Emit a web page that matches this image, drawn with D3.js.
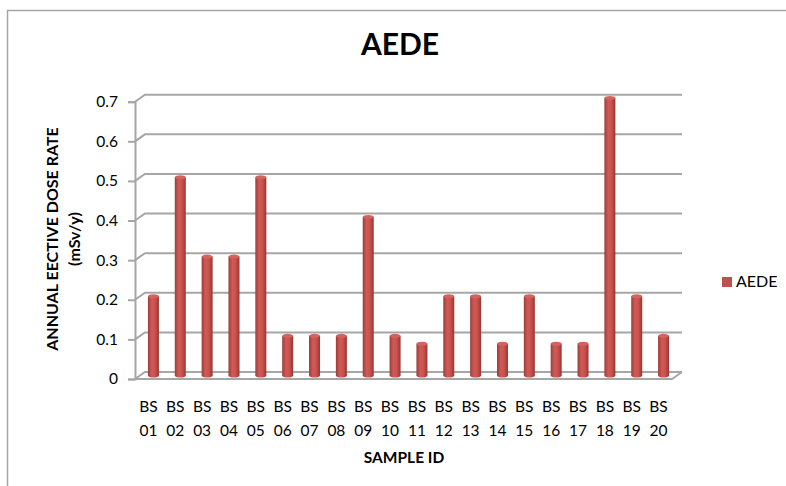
<!DOCTYPE html>
<html>
<head>
<meta charset="utf-8">
<script src="https://cdn.jsdelivr.net/npm/d3@7"></script>
<style>
  body { margin: 0; background: #fff; }
  text { font-family: Lato, "Open Sans", sans-serif; fill: #000; }
</style>
</head>
<body>
<div id="chart"></div>
<script>
// data
var sampleIds = ["01","02","03","04","05","06","07","08","09","10",
                 "11","12","13","14","15","16","17","18","19","20"];
var aede = [0.2,0.5,0.3,0.3,0.5,0.1,0.1,0.1,0.4,0.1,
            0.08,0.2,0.2,0.08,0.2,0.08,0.08,0.7,0.2,0.1];
var yTicks = [0,0.1,0.2,0.3,0.4,0.5,0.6,0.7];
var seriesName = "AEDE";

var svgWidth = 786;
var svgHeight = 486;

// 3d floor: front edge, back edge offset
var depthX = 10;
var depthY = -7;
var frontLeft = 135, frontRight = 672;

var svg = d3.select("#chart")
    .append("svg")
    .attr("width", svgWidth)
    .attr("height", svgHeight);

// outer chart border
svg.append("path")
    .attr("d", "M7.5,486 V10.5 H786")
    .attr("fill", "none")
    .attr("stroke", "#a6a6a6")
    .attr("stroke-width", 1.5);

var yFront = d3.scaleLinear().domain([0, 0.7]).range([379, 101.7]);
var yMid = d3.scaleLinear().domain([0, 0.7]).range([375.5, 98]);

var xFront = d3.scaleBand()
    .domain(sampleIds)
    .range([frontLeft, frontRight]);
var xMid = d3.scaleBand()
    .domain(sampleIds)
    .range([frontLeft + depthX / 2, frontRight + depthX / 2]);

var gridColor = "#a6a6a6";

// back wall gridlines with the diagonal on the side wall
svg.append("g").selectAll("path")
    .data(yTicks)
    .enter()
    .append("path")
    .attr("d", d => {
        var y = yFront(d);
        return "M" + frontLeft + "," + y +
               " L" + (frontLeft + depthX) + "," + (y + depthY) +
               " H" + (frontRight + depthX);
    })
    .attr("fill", "none")
    .attr("stroke", gridColor)
    .attr("stroke-width", 2);

// floor
svg.append("path")
    .attr("d", "M" + frontLeft + "," + yFront(0) +
               " H" + frontRight +
               " L" + (frontRight + depthX) + "," + (yFront(0) + depthY))
    .attr("fill", "none")
    .attr("stroke", gridColor)
    .attr("stroke-width", 2);

// y axis
var yAxis = d3.axisLeft(yFront)
    .tickValues(yTicks)
    .tickSize(7)
    .tickPadding(10)
    .tickFormat(d => d === 0 ? "0" : d3.format(".1f")(d));

var yAxisG = svg.append("g")
    .attr("transform", "translate(" + frontLeft + ",0)")
    .call(yAxis);
yAxisG.selectAll("path, line")
    .attr("stroke", gridColor)
    .attr("stroke-width", 2);
yAxisG.selectAll("text")
    .style("font-family", "Lato, sans-serif")
    .attr("font-size", 15.5)
    .attr("fill", "#000");

// bar gradient for the cylinder look
var defs = svg.append("defs");
var grad = defs.append("linearGradient")
    .attr("id", "cyl")
    .attr("x1", "0%").attr("x2", "100%")
    .attr("y1", "0%").attr("y2", "0%");
grad.append("stop").attr("offset", "0%").attr("stop-color", "#9e3c39");
grad.append("stop").attr("offset", "35%").attr("stop-color", "#cf5a56");
grad.append("stop").attr("offset", "65%").attr("stop-color", "#c9524e");
grad.append("stop").attr("offset", "100%").attr("stop-color", "#983533");

var barW = 11;
var bars = svg.append("g").selectAll("g")
    .data(aede)
    .enter()
    .append("g");

bars.append("rect")
    .attr("x", (d, i) => xMid(sampleIds[i]) + xMid.bandwidth() / 2 - barW / 2)
    .attr("y", d => yMid(d))
    .attr("width", barW)
    .attr("height", d => yMid(0) - yMid(d))
    .attr("fill", "url(#cyl)");

bars.append("ellipse")
    .attr("cx", (d, i) => xMid(sampleIds[i]) + xMid.bandwidth() / 2)
    .attr("cy", yMid(0))
    .attr("rx", barW / 2)
    .attr("ry", 2)
    .attr("fill", "url(#cyl)");

bars.append("ellipse")
    .attr("cx", (d, i) => xMid(sampleIds[i]) + xMid.bandwidth() / 2)
    .attr("cy", d => yMid(d))
    .attr("rx", barW / 2)
    .attr("ry", 2)
    .attr("fill", "#d4625e");

// x labels, two lines each
var xLabels = svg.append("g").selectAll("text")
    .data(sampleIds)
    .enter()
    .append("text")
    .attr("text-anchor", "middle")
    .attr("font-size", 15.5);
xLabels.append("tspan")
    .attr("x", d => xFront(d) + xFront.bandwidth() / 2)
    .attr("y", 412)
    .text("BS");
xLabels.append("tspan")
    .attr("x", d => xFront(d) + xFront.bandwidth() / 2)
    .attr("y", 436)
    .text(d => d);

// title
svg.append("text")
    .attr("x", 400)
    .attr("y", 55)
    .attr("text-anchor", "middle")
    .attr("font-size", 30)
    .attr("font-weight", "bold")
    .text("AEDE");

// axis titles
svg.append("text")
    .attr("transform", "translate(58,239) rotate(-90)")
    .attr("text-anchor", "middle")
    .attr("font-size", 16)
    .attr("font-weight", "bold")
    .text("ANNUAL EECTIVE DOSE RATE");
svg.append("text")
    .attr("transform", "translate(80,239) rotate(-90)")
    .attr("text-anchor", "middle")
    .attr("font-size", 16)
    .attr("font-weight", "bold")
    .text("(mSv/y)");

svg.append("text")
    .attr("x", 404)
    .attr("y", 463)
    .attr("text-anchor", "middle")
    .attr("font-size", 15.5)
    .attr("font-weight", "bold")
    .text("SAMPLE ID");

// legend
var legend = svg.append("g").attr("transform", "translate(722,277)");
legend.append("rect")
    .attr("width", 10)
    .attr("height", 10)
    .attr("fill", "#c0504d");
legend.append("text")
    .attr("x", 14)
    .attr("y", 10)
    .attr("font-size", 16)
    .text(seriesName);
</script>
</body>
</html>
